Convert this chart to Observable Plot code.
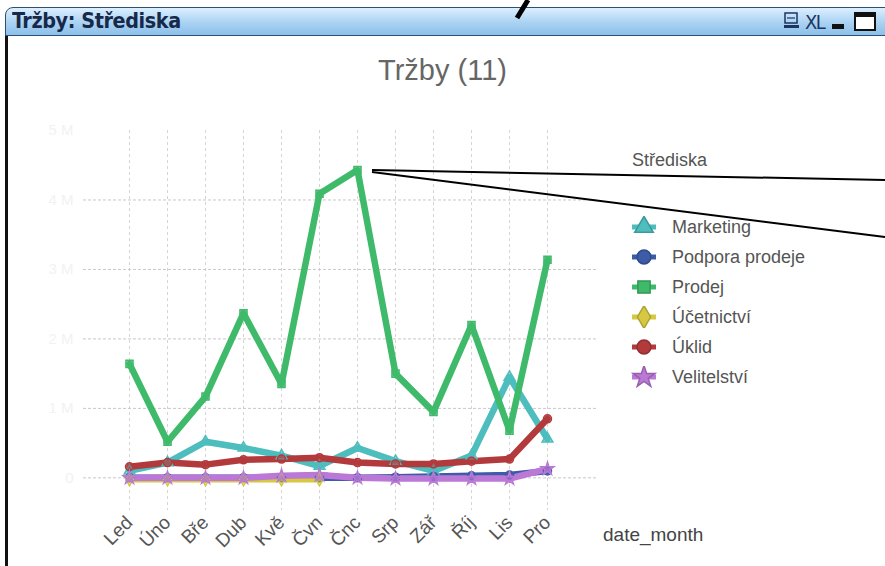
<!DOCTYPE html>
<html><head><meta charset="utf-8">
<script src="https://cdn.jsdelivr.net/npm/d3@7"></script>
<script src="https://cdn.jsdelivr.net/npm/@observablehq/plot@0.6"></script>
<style>
body{margin:0;background:#fff;}
#wrap{position:relative;width:885px;height:566px;overflow:hidden;background:#fff;font-family:"Liberation Sans",Arial,sans-serif;}
#chart{position:absolute;left:0;top:0;}
#bar{position:absolute;left:5px;top:7px;width:920px;height:29px;box-sizing:border-box;background:linear-gradient(#dcefff,#a9d2f2 55%,#8cc0ea);border:1px solid #2d4f74;border-top-left-radius:8px;}
#bartitle{position:absolute;left:12px;top:8px;font-family:"DejaVu Sans Condensed","DejaVu Sans",sans-serif;font-stretch:condensed;font-weight:bold;font-size:22px;color:#17294a;letter-spacing:-0.4px;transform:scaleX(0.97);transform-origin:left;}
#icons{position:absolute;left:784px;top:10px;height:22px;}
#lborder{position:absolute;left:5px;top:35px;width:3px;height:540px;background:#111;}
#title{position:absolute;left:0;width:885px;top:54px;text-align:center;font-size:29px;color:#666;}
#legend{position:absolute;left:630px;top:150px;color:#555;font-size:18px;}
#legend .t{margin-left:2px;height:26px;line-height:20px;margin-bottom:36px;}
#legend .row{height:30px;display:flex;align-items:center;}
#legend svg{margin-right:14px;}
#xlab{position:absolute;left:603px;top:524px;font-size:19px;color:#444;}
#anno{position:absolute;left:0;top:0;}
</style></head>
<body>
<div id="wrap">
  <div id="chart"></div>
  <div id="title">Tržby (11)</div>
  <div id="legend"></div>
  <div id="xlab">date_month</div>
  <div id="lborder"></div>
  <div id="bar"></div>
  <div id="bartitle">Tržby: Střediska</div>
  <div id="icons">
    <svg width="101" height="24">
      <rect x="1" y="3" width="12" height="10" fill="none" stroke="#1d3560" stroke-width="1.5"/>
      <line x1="3" y1="8" x2="11" y2="8" stroke="#1d3560" stroke-width="1.2"/>
      <rect x="-1" y="15" width="16" height="3" fill="#1d3560"/>
      <text x="21" y="19" font-size="20" fill="#1d3560" font-family="DejaVu Sans Condensed" letter-spacing="-1.5">XL</text>
      <rect x="48" y="14" width="12" height="5" fill="#111"/>
      <rect x="71" y="3" width="20" height="17" fill="#fff" stroke="#111" stroke-width="2"/>
      <rect x="71" y="3" width="20" height="4" fill="#111"/>
    </svg>
  </div>
  <svg id="anno" width="885" height="566">
    <line x1="528" y1="0" x2="517" y2="18" stroke="#000" stroke-width="5"/>
    <line x1="372" y1="170" x2="885" y2="180" stroke="#000" stroke-width="2"/>
    <line x1="372" y1="172" x2="885" y2="237" stroke="#000" stroke-width="2"/>
  </svg>
</div>
<script>
const months = ["Led","Úno","Bře","Dub","Kvě","Čvn","Čnc","Srp","Zář","Říj","Lis","Pro"];
const seriesNames = ["Marketing","Podpora prodeje","Prodej","Účetnictví","Úklid","Velitelství"];
const seriesColors = ["#4dbdbd","#3d5ca8","#3fba6b","#d6c840","#b33a3c","#bb78d6"];
const seriesSymbols = ["triangle","circle","square","diamond","circle","star"];
const yTicks = [0,1,2,3,4];

const marketing   = [0.10,0.22,0.52,0.43,0.32,0.17,0.43,0.24,0.10,0.32,1.45,0.56];
const podpora     = [0.00,0.00,0.00,0.00,0.00,0.00,0.00,0.01,0.02,0.03,0.04,0.10];
const prodej      = [1.64,0.52,1.17,2.37,1.35,4.09,4.43,1.50,0.95,2.20,0.68,3.14];
const ucetnictvi  = [-0.02,-0.02,-0.02,-0.02,-0.02,-0.02,null,null,null,null,null,null];
const uklid       = [0.16,0.22,0.19,0.26,0.27,0.29,0.22,0.20,0.20,0.24,0.27,0.85];
const velitelstvi = [0.00,0.00,0.00,0.00,0.03,0.04,0.00,-0.01,-0.01,-0.01,-0.01,0.13];

const seriesValues = [marketing, podpora, prodej, ucetnictvi, uklid, velitelstvi];
const data = [];
seriesNames.forEach((s, i) => months.forEach((m, j) => {
  const v = seriesValues[i][j];
  if (v !== null) data.push({series: s, month: m, value: v});
}));

const chart = Plot.plot({
  width: 885, height: 566,
  marginLeft: 83, marginRight: 287, marginTop: 130, marginBottom: 56,
  style: {background: "transparent", fontFamily: "Liberation Sans, Arial, sans-serif"},
  x: {type: "point", domain: months, padding: 0, insetLeft: 45, insetRight: 51},
  y: {domain: [-0.47, 5]},
  color: {domain: seriesNames, range: seriesColors},
  symbol: {domain: seriesNames, range: seriesSymbols},
  marks: [
    Plot.gridX(months, {stroke: "#d4d4d4", strokeOpacity: 1, strokeDasharray: "3,3"}),
    Plot.ruleY(yTicks, {stroke: "#c8c8c8", strokeDasharray: "3,2"}),
    Plot.line(data, {x: "month", y: "value", z: "series", stroke: "series", strokeWidth: 6.5, strokeLinejoin: "round", strokeLinecap: "round"}),
    Plot.dot(data, {x: "month", y: "value", symbol: "series", stroke: "series", fill: "series", fillOpacity: 0.5, r: 4, strokeWidth: 1.5}),
    Plot.axisX({tickRotate: -45, tickSize: 0, tickPadding: 9, fontSize: 19, fill: "#555", label: null}),
    Plot.axisY({ticks: [0,1,2,3,4,5], tickSize: 0, tickPadding: 10, fontSize: 15, fill: "#f2f2f2", label: null, tickFormat: d => d === 0 ? "0" : d + " M"})
  ]
});
document.getElementById("chart").appendChild(chart);

// legend
const lg = d3.select("#legend");
lg.append("div").attr("class", "t").text("Střediska");
seriesNames.forEach((s, i) => {
  const row = lg.append("div").attr("class", "row");
  const sv = row.append("svg").attr("width", 28).attr("height", 22);
  sv.append("line").attr("x1", 2).attr("x2", 26).attr("y1", 11).attr("y2", 11)
    .attr("stroke", seriesColors[i]).attr("stroke-width", 5);
  const sym = {triangle: d3.symbolTriangle, circle: d3.symbolCircle, square: d3.symbolSquare, diamond: d3.symbolDiamond, star: d3.symbolStar}[seriesSymbols[i]];
  sv.append("path").attr("transform", "translate(14,11)")
    .attr("d", d3.symbol(sym, 150)()).attr("fill", seriesColors[i])
    .attr("stroke", d3.color(seriesColors[i]).darker(0.6)).attr("stroke-width", 1.5);
  row.append("span").text(s);
});
</script>
</body></html>
